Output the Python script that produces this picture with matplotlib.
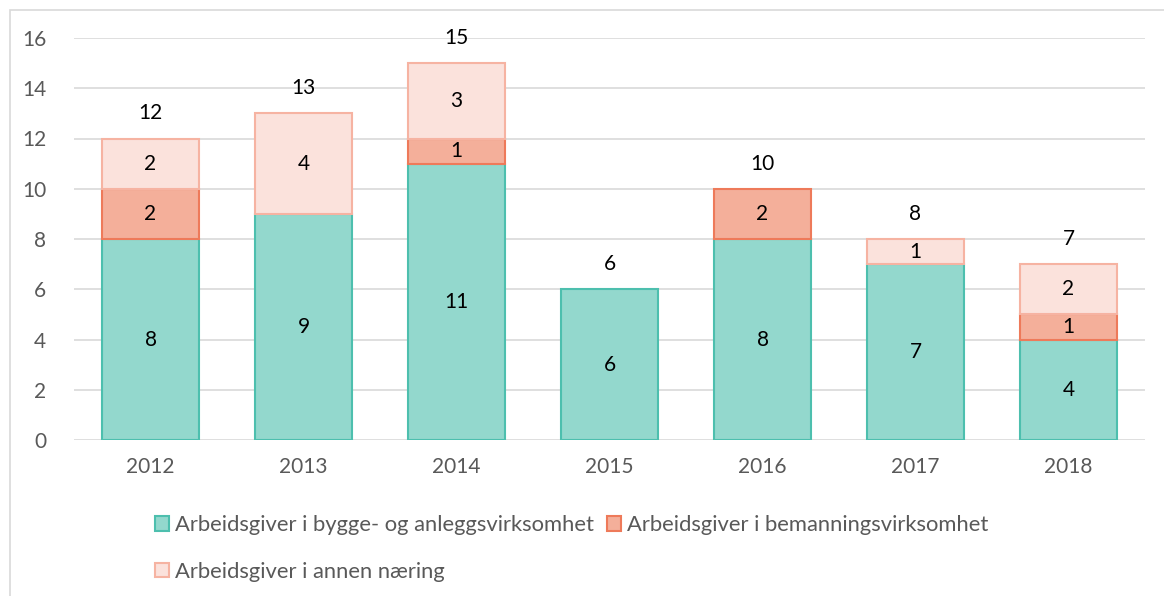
import matplotlib
matplotlib.use("Agg")
import matplotlib.pyplot as plt
from matplotlib.patches import Rectangle
import numpy as np

years = ["2012", "2013", "2014", "2015", "2016", "2017", "2018"]
bygg = [8, 9, 11, 6, 8, 7, 4]
bemanning = [2, 0, 1, 0, 2, 0, 1]
annen = [2, 4, 3, 0, 0, 1, 2]
series_names = ["Arbeidsgiver i bygge- og anleggsvirksomhet",
                "Arbeidsgiver i bemanningsvirksomhet",
                "Arbeidsgiver i annen næring"]

plt.rcParams['font.family'] = ['Lato', 'DejaVu Sans']

W, H = 1164, 596
fig = plt.figure(figsize=(W/100, H/100), dpi=100)
ax = fig.add_axes([74/W, 1-440/H, (1145-74)/W, (440-38)/H])

fills = ["#93D8CD", "#F4AF9A", "#FBE2DC"]
edges = ["#4DBFAE", "#EE7A5A", "#F6B3A2"]

x = np.arange(len(years))
width = 0.63
bottom = np.zeros(len(years))
handles = []
for vals, fc, ec, name in zip([bygg, bemanning, annen], fills, edges, series_names):
    vals = np.array(vals, dtype=float)
    lws = [1.5 if v > 0 else 0 for v in vals]
    bars = ax.bar(x, vals, width, bottom=bottom, color=fc, edgecolor=ec,
                  linewidth=lws, label=name, zorder=3)
    handles.append(bars)
    for xi, v, b in zip(x, vals, bottom):
        if v > 0:
            ax.text(xi, b + v/2, f"{int(v)}", ha='center', va='center',
                    fontsize=15, color='black', zorder=4)
    bottom = bottom + vals

for xi, t in zip(x, bottom):
    ax.text(xi, t + 1.0, f"{int(t)}", ha='center', va='center',
            fontsize=15, color='black')

ax.set_xlim(-0.5, len(years) - 0.5)
ax.set_ylim(0, 16)
ax.set_yticks(range(0, 17, 2))
ax.set_xticks(x)
ax.set_xticklabels(years)
ax.tick_params(axis='both', length=0, labelsize=15, colors='#595959')
ax.tick_params(axis='y', pad=20)
ax.tick_params(axis='x', pad=12)
ax.grid(axis='y', color='#D9D9D9', linewidth=1.2, zorder=0)
for s in ax.spines.values():
    s.set_visible(False)

leg = fig.legend([handles[0], handles[2], handles[1]],
                 [series_names[0], series_names[2], series_names[1]],
                 ncol=2, loc='upper left', bbox_to_anchor=(144/W, 1-504/H),
                 frameon=False, fontsize=15.8, labelcolor='#595959',
                 handlelength=0.65, handleheight=0.65, handletextpad=0.25,
                 columnspacing=0.6, labelspacing=1.22, borderpad=0)

fig.patches.append(Rectangle((10/W, -0.1), 1.2, 1-10/H+0.1,
                             transform=fig.transFigure, fill=False,
                             edgecolor='#D9D9D9', linewidth=1.2))

fig.savefig("out.png", dpi=100)
